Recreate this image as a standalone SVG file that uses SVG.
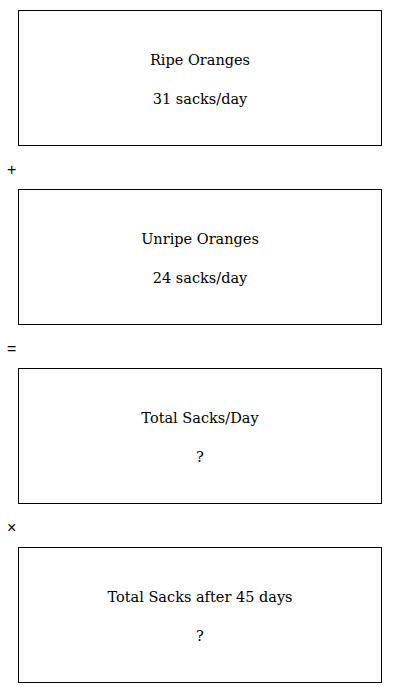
<svg xmlns="http://www.w3.org/2000/svg" width="400" height="693" viewBox="0 0 400 693">
<style>
.box{fill:#fff;stroke:#000;stroke-width:1}
.t{font-family:"DejaVu Serif","Liberation Serif",serif;font-size:14.5px;text-anchor:middle;fill:#000}
.op{font-family:"Liberation Sans",Arial,sans-serif;font-size:16px;fill:#000}
</style>
<rect width="400" height="693" fill="#fff"/>
<g id="ripe">
<rect class="box" x="18.5" y="10.5" width="363" height="135"/>
<text class="t" x="200" y="65">Ripe Oranges</text>
<text class="t" x="200" y="104">31 sacks/day</text>
</g>
<g id="unripe">
<rect class="box" x="18.5" y="189.5" width="363" height="135"/>
<text class="t" x="200" y="244">Unripe Oranges</text>
<text class="t" x="200" y="283">24 sacks/day</text>
</g>
<g id="total-day">
<rect class="box" x="18.5" y="368.5" width="363" height="135"/>
<text class="t" x="200" y="423">Total Sacks/Day</text>
<text class="t" x="200" y="462">?</text>
</g>
<g id="total-45">
<rect class="box" x="18.5" y="547.5" width="363" height="135"/>
<text class="t" x="200" y="602">Total Sacks after 45 days</text>
<text class="t" x="200" y="641">?</text>
</g>
<g id="operators">
<text class="op" x="7" y="175">+</text>
<text class="op" x="7" y="354">=</text>
<text class="op" x="7" y="533">×</text>
</g>
</svg>
